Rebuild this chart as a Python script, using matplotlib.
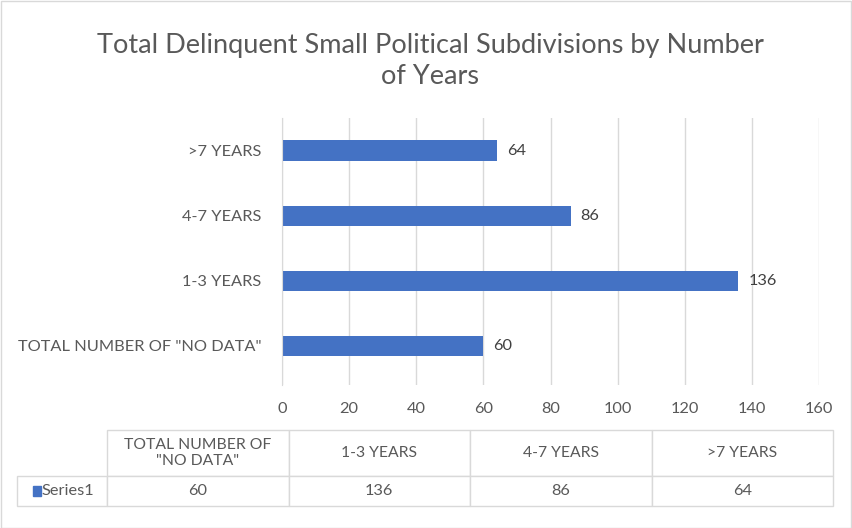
import matplotlib.pyplot as plt
from matplotlib.patches import Rectangle
from matplotlib.table import Table

categories = ['TOTAL NUMBER OF "NO DATA"', '1-3 YEARS', '4-7 YEARS', '>7 YEARS']
table_labels = ['TOTAL NUMBER OF\n"NO DATA"', '1-3 YEARS', '4-7 YEARS', '>7 YEARS']
values = [60, 136, 86, 64]
series_name = 'Series1'

blue = '#4472c4'
txt = '#595959'
grid = '#d9d9d9'

plt.rcParams['font.family'] = ['Lato', 'DejaVu Sans']

W, H = 852, 528
fig = plt.figure(figsize=(W / 100, H / 100), dpi=100)

# chart border
fig.patches.append(Rectangle((0.5 / W, 0.5 / H), 1 - 1.5 / W, 1 - 1.5 / H, transform=fig.transFigure,
                             fill=False, edgecolor=grid, linewidth=1))

ax = fig.add_axes([282 / W, (H - 385) / H, (819 - 282) / W, (385 - 118) / H])
y = range(len(categories))
ax.barh(y, values, height=0.31, color=blue)
for i, v in enumerate(values):
    ax.text(v + 3, i, str(v), va='center', ha='left', fontsize=11.8, color='#404040')

ax.set_xlim(0, 160)
ax.set_ylim(-0.6, 3.5)
ax.set_xticks(range(0, 161, 20))
ax.set_yticks(list(y))
ax.set_yticklabels(categories)
ax.tick_params(axis='both', length=0, labelsize=11.8, colors=txt)
ax.tick_params(axis='y', pad=15)
ax.tick_params(axis='x', pad=12)
ax.grid(axis='x', color=grid, linewidth=1)
ax.set_axisbelow(True)
for s in ['top', 'right', 'bottom']:
    ax.spines[s].set_visible(False)
ax.spines['left'].set_color(grid)

fig.text(430 / W, 1 - 61 / H, 'Total Delinquent Small Political Subdivisions by Number\nof Years',
         ha='center', va='center', fontsize=19.5, color=txt, linespacing=1.25)

# data table
tx0, tx1 = 17, 833
ty0, ty1 = 430, 506
tab_ax = fig.add_axes([tx0 / W, (H - ty1) / H, (tx1 - tx0) / W, (ty1 - ty0) / H])
tab_ax.axis('off')
tw = tx1 - tx0
th = ty1 - ty0
label_w = (107 - tx0) / tw
col_w = (1 - label_w) / len(values)
head_h = (476 - ty0) / th
row_h = 1 - head_h

tbl = Table(tab_ax, bbox=[0, 0, 1, 1])
for j, lab in enumerate(table_labels):
    c = tbl.add_cell(0, j + 1, col_w, head_h, text=lab, loc='center')
    c.set_edgecolor(grid)
    c.get_text().set_color(txt)
    c.get_text().set_fontsize(11.3)
    c.get_text().set_linespacing(1.1)
    c2 = tbl.add_cell(1, j + 1, col_w, row_h, text=str(values[j]), loc='center')
    c2.set_edgecolor(grid)
    c2.get_text().set_color(txt)
    c2.get_text().set_fontsize(11.8)
c0 = tbl.add_cell(0, 0, label_w, head_h, text='')
c0.set_edgecolor('none')
c1 = tbl.add_cell(1, 0, label_w, row_h, text=series_name, loc='left')
c1.set_edgecolor(grid)
c1.get_text().set_color(txt)
c1.get_text().set_fontsize(11.8)
c1.PAD = (42 - tx0) / (107 - tx0)
tbl.auto_set_font_size(False)
tab_ax.add_table(tbl)
tab_ax.add_patch(Rectangle(((33 - tx0) / tw, row_h / 2 - 5 / th), 8 / tw, 10 / th,
                           transform=tab_ax.transAxes, color=blue, clip_on=False))

fig.savefig('out.png', dpi=100)
